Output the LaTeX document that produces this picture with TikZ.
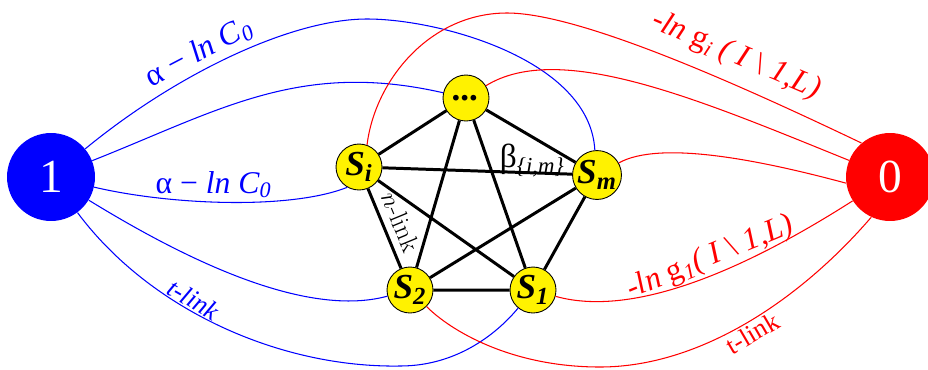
\documentclass[tikz,border=0pt]{standalone}
\usepackage{fontspec}
\newfontfamily\timesfont{Liberation Serif}
\begin{document}
\begin{tikzpicture}[x=0.02cm, y=-0.02cm, >=stealth,
    tnode/.style={circle, minimum size=1.76cm, inner sep=0pt, text=white,
        font=\timesfont\fontsize{27}{27}\selectfont},
    pnode/.style={circle, draw=black, line width=0.5pt, fill=yellow,
        minimum size=0.92cm, inner sep=0pt,
        font=\timesfont\bfseries\itshape\fontsize{20}{20}\selectfont},
    nlink/.style={line width=1.7pt},
    slink/.style={blue, line width=0.6pt},
    tlink/.style={red, line width=0.6pt},
    lab/.style={font=\timesfont\fontsize{18}{18}\selectfont, inner sep=2pt}]
    \useasboundingbox (0,0) rectangle (928,369);
    % 源点和汇点
    \node[tnode, fill=blue] (src) at (51,177) {1};
    \node[tnode, fill=red] (snk) at (890,177) {0};
    % 像素节点
    \node[pnode] (dots) at (466,98) {...};
    \node[pnode] (si) at (359,167) {S\textsubscript{i}};
    \node[pnode] (sm) at (597,175) {S\textsubscript{m}};
    \node[pnode] (s2) at (410,290) {S\textsubscript{2}};
    \node[pnode] (s1) at (533,290) {S\textsubscript{1}};
    % n-link
    \draw[nlink] (dots) -- (si) (dots) -- (sm) (dots) -- (s2) (dots) -- (s1)
        (si) -- (s1) (sm) -- (s2) (sm) -- (s1) (s2) -- (s1);
    \draw[nlink] (si) -- node[pos=0.79, above=-3pt, inner sep=0pt, font=\timesfont\fontsize{19}{19}\selectfont]
        {β\textsubscript{\fontsize{13}{13}\selectfont\textit{\{i,m\}}}} (sm);
    \draw[nlink] (si) -- node[sloped, above, inner sep=4pt, font=\fontsize{15}{15}\selectfont] {$n$-link} (s2);
    % 源点一侧的 t-link
    \draw[slink] (src) .. controls (175,75) and (290,19) .. node[lab, sloped, above, pos=0.42] {α − \textit{ln C}\textsubscript{\textit{0}}}
        (367,19) .. controls (440,19) and (590,60) .. (sm.95);
    \draw[slink] (src) .. controls (220,110) and (300,60) .. (dots);
    \draw[slink] (src) .. controls (170,205) and (290,210) .. node[lab, above, pos=0.45] {α − \textit{ln C}\textsubscript{\textit{0}}} (si.240);
    \draw[slink] (src) .. controls (170,250) and (300,320) .. (s2);
    \draw[slink] (src) .. controls (150,310) and (280,368) .. node[lab, sloped, above, pos=0.4, inner sep=1pt,
        font=\timesfont\itshape\fontsize{15}{15}\selectfont] {t-link}
        (400,366) .. controls (460,366) and (500,330) .. (s1);
    % 汇点一侧的 t-link
    \draw[tlink] (snk.130) .. controls (740,85) and (580,13) .. node[lab, red, sloped, above=5pt, pos=0.35]
        {-\textit{ln} g\textsubscript{\textit{i}} \textit{( I} \textbackslash{} \textit{1,L)}}
        (507,13) .. controls (430,13) and (375,80) .. (si.70);
    \draw[tlink] (snk) .. controls (700,100) and (560,40) .. (dots);
    \draw[tlink] (snk.188) .. controls (760,160) and (660,140) .. (sm);
    \draw[tlink] (snk) .. controls (760,260) and (640,320) .. node[lab, red, sloped, above, pos=0.45, inner sep=1pt]
        {-\textit{ln} g\textsubscript{\textit{1}}\textit{( I} \textbackslash{} \textit{1,L)}} (s1);
    \draw[tlink] (snk.245) .. controls (800,300) and (700,367) .. node[lab, red, sloped, below, pos=0.5, inner sep=1pt,
        font=\timesfont\fontsize{15}{15}\selectfont] {t-link}
        (600,367) .. controls (510,367) and (450,330) .. (s2);
\end{tikzpicture}
\end{document}
